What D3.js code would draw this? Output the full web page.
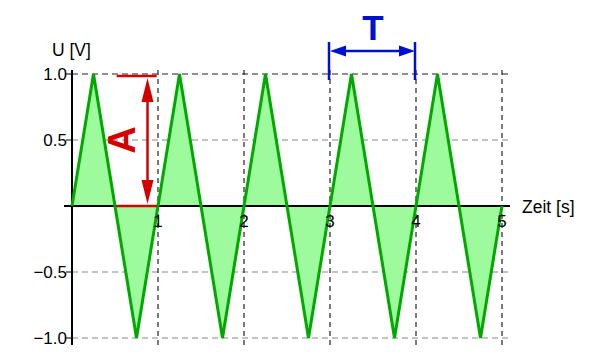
<!DOCTYPE html>
<html>
<head>
<meta charset="utf-8">
<script src="https://cdn.jsdelivr.net/npm/d3@7"></script>
<style>
  body { margin: 0; background: #fff; }
  text { font-family: "Liberation Sans", Arial, sans-serif; }
</style>
</head>
<body>
<div id="chart"></div>
<script>
// triangle wave, period 1 s, amplitude 1 V
const times = [0, 0.25, 0.75, 1.25, 1.75, 2.25, 2.75, 3.25, 3.75, 4.25, 4.75, 5];
const volts = [0, 1, -1, 1, -1, 1, -1, 1, -1, 1, -1, 0];
const xTicks = [1, 2, 3, 4, 5];
const yTicks = [1.0, 0.5, -0.5, -1.0];
const xLabel = 'Zeit [s]';
const yLabel = 'U [V]';

const w = 599, h = 360;

const x = d3.scaleLinear().domain([0, 5]).range([72, 502]);
const y = d3.scaleLinear().domain([-1, 1]).range([338, 74]);

const svg = d3.select('#chart')
    .append('svg')
    .attr('width', w)
    .attr('height', h);

const data = times.map((t, i) => ({t: t, v: volts[i]}));

// grid
svg.append('g')
    .selectAll('line')
    .data(yTicks)
    .enter().append('line')
    .attr('x1', x(0)).attr('x2', x(5) + 6)
    .attr('y1', d => y(d)).attr('y2', d => y(d))
    .attr('stroke', d => d === 1 ? '#222' : '#888')
    .attr('stroke-width', 1.2)
    .attr('stroke-dasharray', '6,4');

svg.append('g')
    .selectAll('line')
    .data(xTicks)
    .enter().append('line')
    .attr('x1', d => x(d)).attr('x2', d => x(d))
    .attr('y1', y(1) - 4).attr('y2', y(-1) + 7)
    .attr('stroke', '#222')
    .attr('stroke-width', 1.2)
    .attr('stroke-dasharray', '5,4');

// area + line
svg.append('path')
    .datum(data)
    .attr('fill', '#9dfb9d')
    .attr('d', d3.area().x(d => x(d.t)).y0(y(0)).y1(d => y(d.v)));

// axes
svg.append('line')
    .attr('x1', x(0)).attr('x2', x(0))
    .attr('y1', y(1) - 4).attr('y2', y(-1) + 7)
    .attr('stroke', '#000').attr('stroke-width', 2);

svg.append('line')
    .attr('x1', x(0) - 8).attr('x2', x(5) + 8)
    .attr('y1', y(0)).attr('y2', y(0))
    .attr('stroke', '#000').attr('stroke-width', 2);

svg.append('g')
    .selectAll('line')
    .data(yTicks)
    .enter().append('line')
    .attr('x1', x(0) - 6).attr('x2', x(0))
    .attr('y1', d => y(d)).attr('y2', d => y(d))
    .attr('stroke', '#000').attr('stroke-width', 1);

svg.append('path')
    .datum(data)
    .attr('fill', 'none')
    .attr('stroke', '#00a800')
    .attr('stroke-width', 3)
    .attr('stroke-linejoin', 'miter')
    .attr('d', d3.line().x(d => x(d.t)).y(d => y(d.v)));

// tick labels
svg.append('g')
    .selectAll('text')
    .data(yTicks)
    .enter().append('text')
    .attr('x', x(0) - 5)
    .attr('y', d => y(d) + 6)
    .attr('text-anchor', 'end')
    .style('font-size', '17px')
    .text(d => d3.format('.1f')(d).replace('-', '\u2212'));

svg.append('g')
    .selectAll('text')
    .data(xTicks)
    .enter().append('text')
    .attr('x', d => x(d))
    .attr('y', y(0) + 21)
    .attr('text-anchor', 'middle')
    .style('font-size', '17px')
    .text(d => d);

svg.append('text')
    .attr('x', 52).attr('y', 56)
    .style('font-size', '17.5px')
    .text(yLabel);

svg.append('text')
    .attr('x', 522).attr('y', 213)
    .style('font-size', '17.5px')
    .text(xLabel);

// amplitude annotation
const red = '#d40000';
const ax = x(0.878);
svg.append('line')
    .attr('x1', x(0.52)).attr('x2', x(0.985))
    .attr('y1', y(1) + 2).attr('y2', y(1) + 2)
    .attr('stroke', red).attr('stroke-width', 2.5);
svg.append('line')
    .attr('x1', x(0.52)).attr('x2', x(0.985))
    .attr('y1', y(0)).attr('y2', y(0))
    .attr('stroke', red).attr('stroke-width', 2.5);
svg.append('line')
    .attr('x1', ax).attr('x2', ax)
    .attr('y1', y(1) + 12).attr('y2', y(0) - 12)
    .attr('stroke', red).attr('stroke-width', 2.5);
svg.append('path')
    .attr('fill', red)
    .attr('d', 'M' + ax + ',' + (y(1) + 4) + 'l6,24h-12z');
svg.append('path')
    .attr('fill', red)
    .attr('d', 'M' + ax + ',' + (y(0) - 2) + 'l6,-24h-12z');
svg.append('text')
    .attr('transform', 'translate(' + (ax - 13) + ',' + y(0.5) + ') rotate(-90)')
    .attr('text-anchor', 'middle')
    .attr('fill', red)
    .style('font-size', '38px')
    .style('font-weight', 'bold')
    .text('A');

// period annotation
const blue = '#0010d0';
const ty = 51;
svg.append('g')
    .selectAll('line')
    .data([3, 4])
    .enter().append('line')
    .attr('x1', d => x(d) - 1).attr('x2', d => x(d) - 1)
    .attr('y1', 42).attr('y2', 80)
    .attr('stroke', blue).attr('stroke-width', 2.5);
svg.append('line')
    .attr('x1', x(3) + 10).attr('x2', x(4) - 10)
    .attr('y1', ty).attr('y2', ty)
    .attr('stroke', blue).attr('stroke-width', 2.5);
svg.append('path')
    .attr('fill', blue)
    .attr('d', 'M' + x(3) + ',' + ty + 'l16,-5.5v11z');
svg.append('path')
    .attr('fill', blue)
    .attr('d', 'M' + (x(4) - 1) + ',' + ty + 'l-16,-5.5v11z');
svg.append('text')
    .attr('x', x(3.5)).attr('y', 40)
    .attr('text-anchor', 'middle')
    .attr('fill', blue)
    .style('font-size', '35px')
    .style('font-weight', 'bold')
    .text('T');
</script>
</body>
</html>
